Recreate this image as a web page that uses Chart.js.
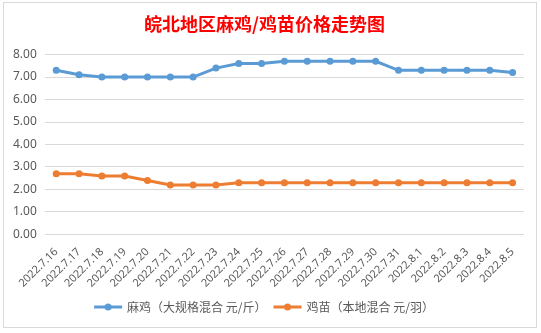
<!DOCTYPE html>
<html>
<head>
<meta charset="utf-8">
<script src="https://cdn.jsdelivr.net/npm/chart.js@4"></script>
<style>
  html, body { margin: 0; padding: 0; background: #fff; }
  #wrap { position: relative; width: 541px; height: 333px; }
  #frame { position: absolute; left: 3px; top: 2px; width: 534px; height: 326px; border: 1px solid #d9d9d9; box-sizing: border-box; pointer-events: none; }
  canvas { position: absolute; left: 0; top: 0; }
</style>
</head>
<body>
<div id="wrap">
  <canvas id="c" width="541" height="333"></canvas>
  <div id="frame"></div>
</div>
<script>
// 日期
const dates = ['2022.7.16','2022.7.17','2022.7.18','2022.7.19','2022.7.20','2022.7.21','2022.7.22',
  '2022.7.23','2022.7.24','2022.7.25','2022.7.26','2022.7.27','2022.7.28','2022.7.29','2022.7.30',
  '2022.7.31','2022.8.1','2022.8.2','2022.8.3','2022.8.4','2022.8.5'];
// 麻鸡（大规格混合 元/斤）
const majiPrice = [7.3, 7.1, 7.0, 7.0, 7.0, 7.0, 7.0, 7.4, 7.6, 7.6, 7.7, 7.7, 7.7, 7.7, 7.7,
  7.3, 7.3, 7.3, 7.3, 7.3, 7.2];
// 鸡苗（本地混合 元/羽）
const jimiaoPrice = [2.7, 2.7, 2.6, 2.6, 2.4, 2.2, 2.2, 2.2, 2.3, 2.3, 2.3, 2.3, 2.3, 2.3, 2.3,
  2.3, 2.3, 2.3, 2.3, 2.3, 2.3];
const seriesNames = ['麻鸡（大规格混合 元/斤）', '鸡苗（本地混合 元/羽）'];
const yTicks = [0, 1, 2, 3, 4, 5, 6, 7, 8];

const BLUE = '#5b9bd5', ORANGE = '#ed7d31';

// legend icon: line with a dot in the middle
const legendIcon = (color) => {
  const cv = document.createElement('canvas');
  cv.width = 30; cv.height = 10;
  const g = cv.getContext('2d');
  g.strokeStyle = color; g.lineWidth = 3;
  g.beginPath(); g.moveTo(1, 5); g.lineTo(29, 5); g.stroke();
  g.fillStyle = color;
  g.beginPath(); g.arc(15, 5, 3.5, 0, Math.PI * 2); g.fill();
  return cv;
};
const icons = [legendIcon(BLUE), legendIcon(ORANGE)];

new Chart(document.getElementById('c').getContext('2d'), {
  type: 'line',
  data: {
    labels: dates,
    datasets: [
      { label: seriesNames[0], data: majiPrice, borderColor: BLUE, backgroundColor: BLUE,
        borderWidth: 3, pointRadius: 3.5, pointBackgroundColor: BLUE, pointBorderWidth: 0, tension: 0 },
      { label: seriesNames[1], data: jimiaoPrice, borderColor: ORANGE, backgroundColor: ORANGE,
        borderWidth: 3, pointRadius: 3.5, pointBackgroundColor: ORANGE, pointBorderWidth: 0, tension: 0 }
    ]
  },
  options: {
    responsive: false,
    animation: false,
    layout: { padding: { left: 5, right: 17, top: 6, bottom: 10 } },
    plugins: {
      title: {
        display: true, text: '皖北地区麻鸡/鸡苗价格走势图', color: '#ff0000',
        font: { family: "'Noto Sans CJK SC'", size: 18, weight: 'bold' },
        padding: { top: 7, bottom: 20 }
      },
      legend: {
        position: 'bottom',
        labels: {
          usePointStyle: true, pointStyleWidth: 26, color: '#595959', boxWidth: 26, boxHeight: 10,
          font: { family: "'Noto Sans CJK SC'", size: 12 }, padding: 8,
          generateLabels: (chart) => chart.data.datasets.map((ds, i) => ({
            text: ds.label, pointStyle: icons[i], fillStyle: ds.borderColor,
            strokeStyle: ds.borderColor, lineWidth: 0, datasetIndex: i, fontColor: '#595959'
          }))
        }
      },
      tooltip: { enabled: false }
    },
    scales: {
      x: {
        offset: true,
        grid: { display: false },
        border: { display: false },
        ticks: { color: '#595959', maxRotation: 45, minRotation: 45, autoSkip: false,
          font: { family: "'Noto Sans'", size: 11 }, padding: 3 }
      },
      y: {
        min: yTicks[0], max: yTicks[yTicks.length - 1],
        afterBuildTicks: (axis) => { axis.ticks = yTicks.map(v => ({ value: v })); },
        grid: { color: '#d9d9d9', drawTicks: false },
        border: { display: false },
        ticks: { color: '#595959', padding: 8, callback: (v) => Number(v).toFixed(2),
          font: { family: "'Noto Sans'", size: 12 } }
      }
    }
  }
});
</script>
</body>
</html>
